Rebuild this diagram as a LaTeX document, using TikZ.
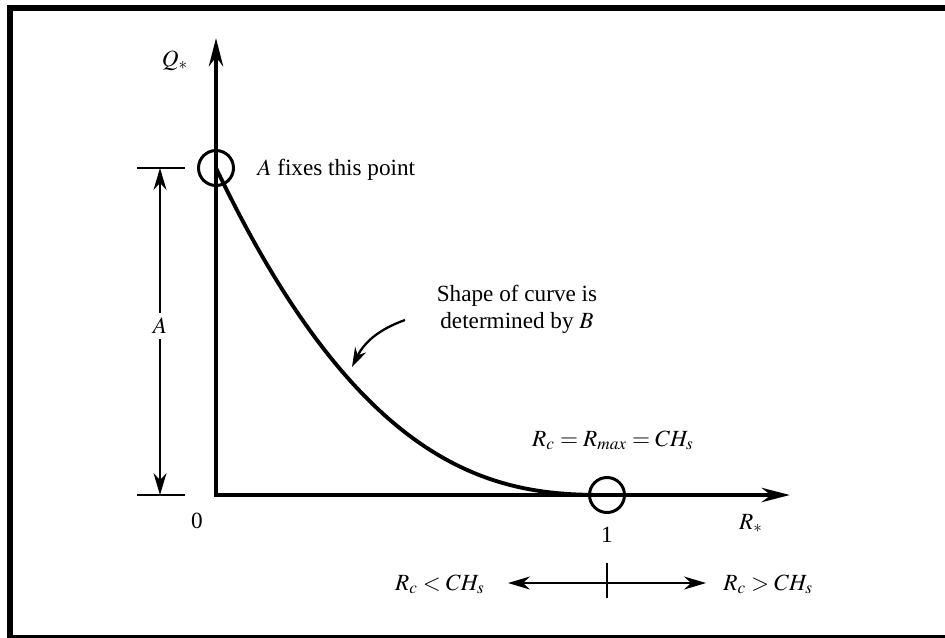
\documentclass[tikz,border=0pt]{standalone}
\usepackage{mathptmx}
\usepackage{fontspec}
\setmainfont{Liberation Serif}
\usetikzlibrary{arrows.meta, positioning}

\begin{document}
\begin{tikzpicture}[x=0.02cm, y=-0.02cm, inner sep=0pt,
    font=\fontsize{13.2}{15.3}\selectfont,
    axisline/.style={line width=2.8pt, line join=miter},
    thinline/.style={line width=1.1pt},
    ringnode/.style={circle, draw, line width=1.7pt, minimum size=0.7cm, inner sep=0pt},
    bigtip/.tip={Stealth[length=15.9pt, width=8pt, inset=5pt]},
    smalltip/.tip={Stealth[length=12.5pt, width=7.4pt, inset=4pt]}]
    \clip (0,0) rectangle (945,637);
    % Frame
    \draw[line width=3.2pt] (10,8) rectangle (960,637.5);

    % Axes
    \coordinate (org) at (216,495);
    \coordinate (ytip) at (216,38);
    \coordinate (xtip) at (790,495);
    \draw[axisline, bigtip-bigtip] (ytip) -- (org) -- (xtip);
    \node[anchor=base] (qlabel) at (175,66) {$Q_*$};
    \node[anchor=base] (rlabel) at (751,529) {$R_*$};
    \node[anchor=base] (zero) at (197,528) {0};
    \node[anchor=base] (one) at (607,542) {1};

    % Curve
    \draw[line width=2.2pt] plot[domain=0:1, samples=90]
        ({216+391*\x},{495-327*(1-\x)^2*sqrt(abs(1-\x))});
    \node[ringnode] (start) at (216,168) {};
    \node[ringnode] (stop) at (607,495) {};
    \node[anchor=base west] (fixes) at (257,175) {$A$ fixes this point};
    \node[anchor=base] (rmax) at (613,446) {$R_c = R_{max} = CH_s$};

    % Shape note
    \node[align=center] (shape) at (517,309) {Shape of curve is\\determined by $B$};
    \coordinate (ptrtail) at (405,320);
    \coordinate (ptrhead) at (352,367);
    \draw[line width=1.3pt, -{Stealth[length=11pt, width=7pt, inset=3.5pt]}]
        (ptrtail) to[bend right=22] (ptrhead);

    % Dimension A
    \coordinate (dimtop) at (160,168);
    \coordinate (dimbot) at (160,495);
    \draw[thinline] (137,168) -- (185,168);
    \draw[thinline] (137,495) -- (185,495);
    \draw[thinline, smalltip-smalltip] (dimtop) -- (dimbot);
    \node[fill=white, inner sep=2.8pt] (alabel) at (160,326) {$A$};

    % Regions below
    \coordinate (lefttip) at (508,583);
    \coordinate (righttip) at (706,583);
    \draw[thinline, smalltip-smalltip] (lefttip) -- (righttip);
    \draw[thinline] (607,563) -- (607,598);
    \node[anchor=base east] (less) at (485,590) {$R_c < CH_s$};
    \node[anchor=base west] (more) at (723,590) {$R_c > CH_s$};
\end{tikzpicture}
\end{document}
